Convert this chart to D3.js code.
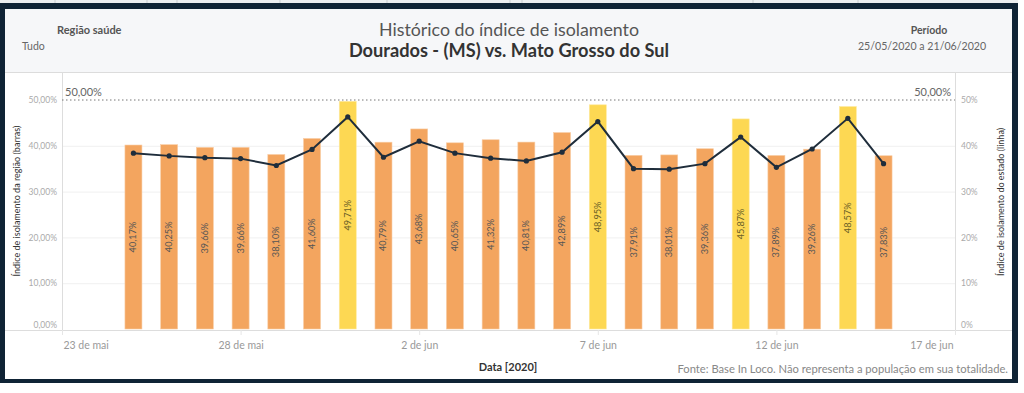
<!DOCTYPE html>
<html>
<head>
<meta charset="utf-8">
<script src="https://cdn.jsdelivr.net/npm/d3@7/dist/d3.min.js"></script>
<style>
body { margin: 0; background: #fff; }
text { font-family: Lato, "Open Sans", sans-serif; }
</style>
</head>
<body>
<script>
var dates = ["2020-05-25","2020-05-26","2020-05-27","2020-05-28","2020-05-29","2020-05-30","2020-05-31",
  "2020-06-01","2020-06-02","2020-06-03","2020-06-04","2020-06-05","2020-06-06","2020-06-07",
  "2020-06-08","2020-06-09","2020-06-10","2020-06-11","2020-06-12","2020-06-13","2020-06-14","2020-06-15"];
var regionValues = [40.17,40.25,39.66,39.66,38.10,41.60,49.71,40.79,43.68,40.65,41.32,40.81,42.89,48.95,
  37.91,38.01,39.36,45.87,37.89,39.26,48.57,37.83];
var stateValues = [38.4,37.8,37.4,37.2,35.7,39.2,46.3,37.5,41.0,38.4,37.3,36.7,38.6,45.3,
  35.0,34.9,36.1,41.9,35.3,39.3,46.0,36.1];
var highlightDates = ["2020-05-31","2020-06-07","2020-06-11","2020-06-14"];
var tickDates = ["2020-05-23","2020-05-28","2020-06-02","2020-06-07","2020-06-12","2020-06-17"];
var tickLabels = ["23 de mai","28 de mai","2 de jun","7 de jun","12 de jun","17 de jun"];
var leftTicks = [0,10,20,30,40,50];
var leftTickLabels = ["0,00%","10,00%","20,00%","30,00%","40,00%","50,00%"];
var rightTickLabels = ["0%","10%","20%","30%","40%","50%"];
var refValue = 50;

var W = 1024, H = 393;
var plot = {left: 62, right: 955, top: 72, bottom: 330};
var parse = d3.utcParse("%Y-%m-%d");

var svg = d3.select("body").append("svg").attr("width", W).attr("height", H);

// frame
svg.append("rect").attr("x", 0).attr("y", 0).attr("width", 1018).attr("height", 4).attr("fill", "#eceef0");
[55, 147, 177, 280, 387, 510, 522, 753, 858].forEach(function(x) {
  svg.append("line").attr("x1", x).attr("x2", x).attr("y1", 0).attr("y2", 3).attr("stroke", "#c8ccd0");
});
svg.append("rect").attr("x", 0).attr("y", 3).attr("width", 1018).attr("height", 380).attr("fill", "#0f2335");
svg.append("rect").attr("x", 5).attr("y", 9).attr("width", 1007).attr("height", 370).attr("fill", "#fff");
svg.append("rect").attr("x", 5).attr("y", 9).attr("width", 1007).attr("height", 63).attr("fill", "#f6f7f9");
svg.append("line").attr("x1", 5).attr("x2", 1012).attr("y1", 72.5).attr("y2", 72.5).attr("stroke", "#dcdcdc");

// header
svg.append("text").attr("x", 57).attr("y", 34).attr("font-size", 11).attr("font-weight", "bold").attr("fill", "#555").text("Região saúde");
svg.append("text").attr("x", 22).attr("y", 50).attr("font-size", 10.5).attr("fill", "#666").text("Tudo");
svg.append("text").attr("x", 509).attr("y", 36).attr("text-anchor", "middle").attr("font-size", 17.8).attr("fill", "#555").text("Histórico do índice de isolamento");
svg.append("text").attr("x", 509).attr("y", 57).attr("text-anchor", "middle").attr("font-size", 18.2).attr("font-weight", "bold").attr("fill", "#333").text("Dourados - (MS) vs. Mato Grosso do Sul");
svg.append("text").attr("x", 929).attr("y", 34).attr("text-anchor", "middle").attr("font-size", 10.5).attr("font-weight", "bold").attr("fill", "#555").text("Período");
svg.append("text").attr("x", 922).attr("y", 50).attr("text-anchor", "middle").attr("font-size", 10.6).attr("fill", "#666").text("25/05/2020 a 21/06/2020");

var x = d3.scaleUtc()
  .domain([parse(tickDates[0]), parse(tickDates[tickDates.length - 1])])
  .range([plot.left, plot.right]);
var y = d3.scaleLinear().domain([0, 50]).range([329, 100]);

var g = svg.append("g");

// gridlines
g.selectAll(".grid").data(leftTicks.slice(1, 5)).enter().append("line")
  .attr("x1", plot.left).attr("x2", plot.right)
  .attr("y1", function(d) { return y(d) + 0.5; }).attr("y2", function(d) { return y(d) + 0.5; })
  .attr("stroke", "#f0f0f0");

// axis lines
g.append("line").attr("x1", plot.left + 0.5).attr("x2", plot.left + 0.5).attr("y1", 72).attr("y2", plot.bottom).attr("stroke", "#ddd");
g.append("line").attr("x1", plot.right + 0.5).attr("x2", plot.right + 0.5).attr("y1", 72).attr("y2", plot.bottom).attr("stroke", "#ddd");

// bars
var barW = 17;
var bars = dates.map(function(d, i) {
  return {date: parse(d), value: regionValues[i], state: stateValues[i], hi: highlightDates.indexOf(d) >= 0};
});
g.selectAll(".bar").data(bars).enter().append("rect")
  .attr("x", function(d) { return x(d.date) - barW / 2; })
  .attr("y", function(d) { return y(d.value); })
  .attr("width", barW)
  .attr("height", function(d) { return y(0) - y(d.value); })
  .attr("fill", function(d) { return d.hi ? "#fdd853" : "#f3a55f"; })
  .attr("stroke", function(d) { return d.hi ? "#fde9a0" : "#f8cda6"; })
  .attr("stroke-width", 0.6);

g.selectAll(".blabel").data(bars).enter().append("text")
  .attr("transform", function(d) {
    return "translate(" + (x(d.date) + 3) + "," + ((y(d.value) + y(0)) / 2) + ") rotate(-90)";
  })
  .attr("text-anchor", "middle")
  .attr("font-size", 9.2)
  .attr("fill", function(d) { return d.hi ? "#6b6128" : "#555"; })
  .text(function(d) { return d.value.toFixed(2).replace(".", ",") + "%"; });

// reference line
g.append("line").attr("x1", plot.left).attr("x2", plot.right)
  .attr("y1", y(refValue)).attr("y2", y(refValue))
  .attr("stroke", "#777").attr("stroke-width", 1).attr("stroke-dasharray", "1.5,2.5");
g.append("text").attr("x", 65).attr("y", y(refValue) - 4).attr("font-size", 11).attr("fill", "#666").text("50,00%");
g.append("text").attr("x", 951).attr("y", y(refValue) - 4).attr("text-anchor", "end").attr("font-size", 11).attr("fill", "#666").text("50,00%");

// state line
var line = d3.line().x(function(d) { return x(d.date); }).y(function(d) { return y(d.state); });
g.append("path").datum(bars).attr("d", line).attr("fill", "none").attr("stroke", "#1f2d3b").attr("stroke-width", 2);
g.selectAll(".pt").data(bars).enter().append("circle")
  .attr("cx", function(d) { return x(d.date); })
  .attr("cy", function(d) { return y(d.state); })
  .attr("r", 2.6).attr("fill", "#1f2d3b");

// left axis
var yl = d3.axisLeft(y).tickValues(leftTicks).tickSize(0).tickPadding(5)
  .tickFormat(function(d, i) { return leftTickLabels[i]; });
var la = g.append("g").attr("transform", "translate(" + plot.left + ",0)").call(yl);
la.select(".domain").remove();
la.selectAll("text").attr("font-size", 8.5).attr("fill", "#aaa").style("font-family", "Lato, sans-serif")
  .attr("dy", function(d) { return d === 0 ? "-0.15em" : "0.32em"; });

// right axis
var yr = d3.axisRight(y).tickValues(leftTicks).tickSize(0).tickPadding(6)
  .tickFormat(function(d, i) { return rightTickLabels[i]; });
var ra = g.append("g").attr("transform", "translate(" + plot.right + ",0)").call(yr);
ra.select(".domain").remove();
ra.selectAll("text").attr("font-size", 8.5).attr("fill", "#aaa").style("font-family", "Lato, sans-serif")
  .attr("dy", function(d) { return d === 0 ? "-0.15em" : "0.32em"; });

// axis titles
svg.append("text").attr("transform", "translate(20,201) rotate(-90)").attr("text-anchor", "middle")
  .attr("font-size", 9).attr("fill", "#333").text("Índice de isolamento da região (barras)");
svg.append("text").attr("transform", "translate(1004,202) rotate(-90)").attr("text-anchor", "middle")
  .attr("font-size", 9).attr("fill", "#333").text("Índice de isolamento do estado (linha)");

// x axis
svg.append("line").attr("x1", 5).attr("x2", 1012).attr("y1", plot.bottom + 0.5).attr("y2", plot.bottom + 0.5).attr("stroke", "#ddd");
var xa = d3.axisBottom(x).tickValues(tickDates.map(parse)).tickSize(5).tickPadding(7)
  .tickFormat(function(d, i) { return tickLabels[i]; });
var xg = svg.append("g").attr("transform", "translate(0," + plot.bottom + ")").call(xa);
xg.select(".domain").remove();
xg.selectAll("line").attr("stroke", "#e6e6e6");
xg.selectAll("text").attr("font-size", 10.5).attr("fill", "#999").style("font-family", "Lato, sans-serif")
  .attr("text-anchor", function(d, i) { return i === 0 ? "start" : (i === tickDates.length - 1 ? "end" : "middle"); })
  .attr("dx", function(d, i) { return i === 0 ? 1 : (i === tickDates.length - 1 ? -2 : 0); });

svg.append("text").attr("x", 508).attr("y", 371).attr("text-anchor", "middle").attr("font-size", 11)
  .attr("font-weight", "bold").attr("fill", "#333").text("Data [2020]");
svg.append("text").attr("x", 1008).attr("y", 373).attr("text-anchor", "end").attr("font-size", 11.2)
  .attr("fill", "#888").text("Fonte: Base In Loco. Não representa a população em sua totalidade.");
</script>
</body>
</html>
